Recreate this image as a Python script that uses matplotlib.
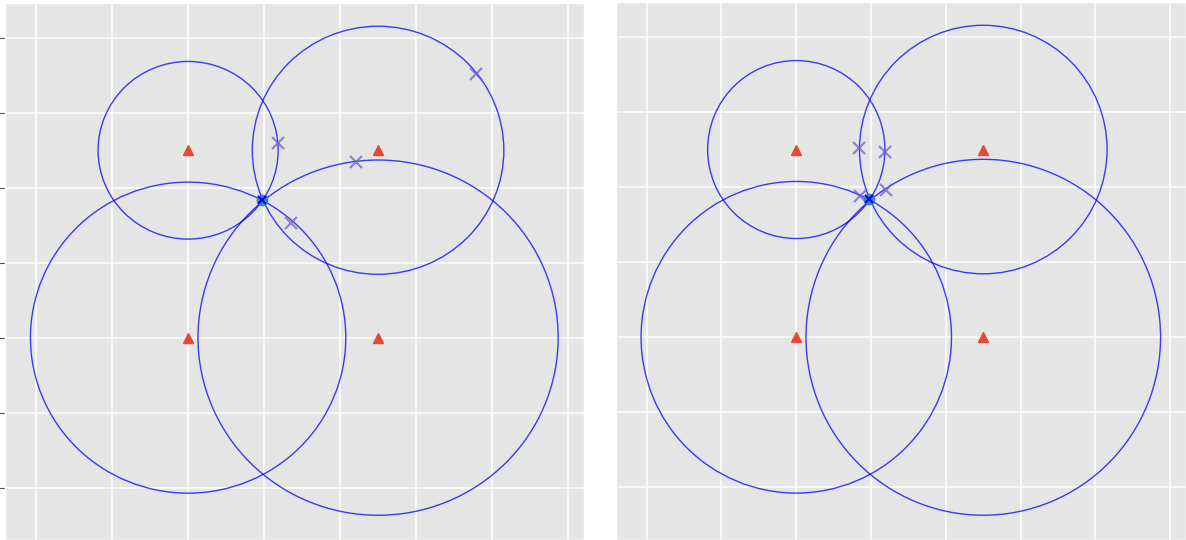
import matplotlib.pyplot as plt
from matplotlib.patches import Circle

plt.style.use('ggplot')

# anchor positions and measured ranges
anchor_x = [0, 5, 0, 5]
anchor_y = [0, 0, 5, 5]
radius = [4.15, 4.74, 2.37, 3.31]

# true target
target_x = 1.95
target_y = 3.68

# estimates, left: one per circle, right: refined
est_left_x = [2.36, 2.71, 4.41, 7.58]
est_left_y = [5.19, 3.07, 4.69, 7.04]
est_right_x = [1.67, 2.38, 2.41, 1.70]
est_right_y = [5.03, 4.94, 3.93, 3.75]

W, H = 1186, 540
fig = plt.figure(figsize=(W / 100, H / 100), dpi=100)
ax1 = fig.add_axes([5 / W, 0, 579 / W, 537 / H])
ax2 = fig.add_axes([616 / W, 0, 570 / W, 538 / H])


def draw(ax, ex, ey):
    for cx, cy, r in zip(anchor_x, anchor_y, radius):
        ax.add_patch(Circle((cx, cy), r, fill=False, edgecolor='blue',
                            linewidth=1.0, alpha=0.75))
    ax.plot(anchor_x, anchor_y, '^', color='#E24A33', markersize=7.5,
            linestyle='none')
    ax.plot(ex, ey, 'x', color='#6a5acd', alpha=0.7, markersize=8,
            markeredgewidth=1.6, linestyle='none')
    ax.plot(target_x, target_y, 'o', color='#348ABD', markersize=7.5)
    ax.plot(target_x, target_y, 'x', color='blue', markersize=6,
            markeredgewidth=1.5)
    ax.set_xlim(-4.82, 10.42)
    ax.set_ylim(-5.4, 8.93)
    ax.set_xticks(range(-4, 11, 2))
    ax.set_yticks(range(-4, 9, 2))
    ax.grid(True, color='white', linewidth=1.1)
    ax.set_facecolor('#E5E5E5')
    ax.tick_params(labelleft=False, labelbottom=False)


draw(ax1, est_left_x, est_left_y)
draw(ax2, est_right_x, est_right_y)
ax1.tick_params(axis='y', length=4, color='#555555')
ax1.tick_params(axis='x', length=0)
ax2.tick_params(length=0)

plt.savefig('out.png')
